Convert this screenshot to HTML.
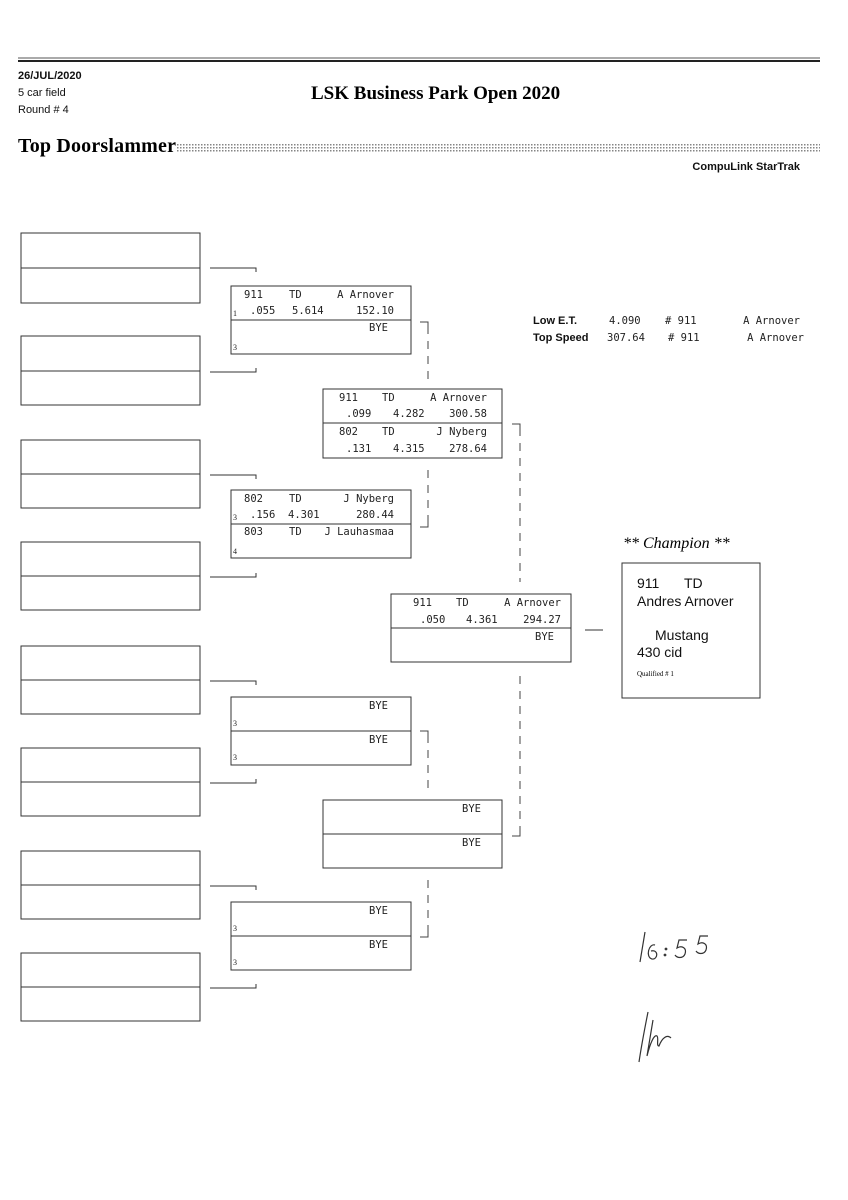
<!DOCTYPE html>
<html><head><meta charset="utf-8"><style>
body{margin:0;background:#fff;width:848px;height:1200px;overflow:hidden}
svg{display:block}
.m{font-family:"DejaVu Sans Mono","Liberation Mono",monospace;font-size:10.5px;fill:#222}
.s{font-family:"Liberation Serif",serif;font-size:8px;fill:#222}
.h{font-family:"Liberation Sans",sans-serif;fill:#111}
</style></head><body>
<svg width="848" height="1200" viewBox="0 0 848 1200" xmlns="http://www.w3.org/2000/svg">
<defs><pattern id="dp" width="3" height="3" patternUnits="userSpaceOnUse"><rect width="1.5" height="1.5" fill="#666"/></pattern></defs>
<line x1="18" y1="58" x2="820" y2="58" stroke="#555" stroke-width="1"/>
<line x1="18" y1="61" x2="820" y2="61" stroke="#222" stroke-width="2"/>
<text x="18" y="79" class="h" font-size="11" font-weight="bold" fill="#222">26/JUL/2020</text>
<text x="18" y="96" class="h" font-size="11" fill="#222">5 car field</text>
<text x="18" y="113" class="h" font-size="11" fill="#222">Round # 4</text>
<text x="311" y="99" font-family="Liberation Serif,serif" font-weight="bold" font-size="19">LSK Business Park Open 2020</text>
<text x="18" y="152" font-family="Liberation Serif,serif" font-weight="bold" font-size="20" textLength="158">Top Doorslammer</text>
<rect x="176" y="143" width="644" height="9" fill="url(#dp)" opacity="0.8"/>
<text x="800" y="170" text-anchor="end" class="h" font-size="11" font-weight="bold" fill="#222">CompuLink StarTrak</text>

<g fill="none" stroke="#333" stroke-width="1">
<rect x="21" y="233" width="179" height="70"/><line x1="21" y1="268" x2="200" y2="268"/>
<rect x="21" y="336" width="179" height="69"/><line x1="21" y1="371" x2="200" y2="371"/>
<rect x="21" y="440" width="179" height="68"/><line x1="21" y1="474" x2="200" y2="474"/>
<rect x="21" y="542" width="179" height="68"/><line x1="21" y1="576" x2="200" y2="576"/>
<rect x="21" y="646" width="179" height="68"/><line x1="21" y1="680" x2="200" y2="680"/>
<rect x="21" y="748" width="179" height="68"/><line x1="21" y1="782" x2="200" y2="782"/>
<rect x="21" y="851" width="179" height="68"/><line x1="21" y1="885" x2="200" y2="885"/>
<rect x="21" y="953" width="179" height="68"/><line x1="21" y1="987" x2="200" y2="987"/>
<path d="M210 268H256v4M210 372H256v-4M210 475H256v4M210 577H256v-4M210 681H256v4M210 783H256v-4M210 886H256v4M210 988H256v-4"/>
<rect x="231" y="286" width="180" height="68"/><line x1="231" y1="320" x2="411" y2="320"/>
<rect x="231" y="490" width="180" height="68"/><line x1="231" y1="524" x2="411" y2="524"/>
<rect x="231" y="697" width="180" height="68"/><line x1="231" y1="731" x2="411" y2="731"/>
<rect x="231" y="902" width="180" height="68"/><line x1="231" y1="936" x2="411" y2="936"/>
<rect x="323" y="389" width="179" height="69"/><line x1="323" y1="423" x2="502" y2="423"/>
<rect x="323" y="800" width="179" height="68"/><line x1="323" y1="834" x2="502" y2="834"/>
<rect x="391" y="594" width="180" height="68"/><line x1="391" y1="628" x2="571" y2="628"/>
<line x1="585" y1="630" x2="603" y2="630"/>
<rect x="622" y="563" width="138" height="135"/>
</g>
<g fill="none" stroke="#444" stroke-width="1">
<path d="M420 322H428v4"/><line x1="428" y1="326" x2="428" y2="380" stroke-dasharray="8,7"/>
<path d="M420 527H428v-4"/><line x1="428" y1="470" x2="428" y2="523" stroke-dasharray="8,7"/>
<path d="M420 731H428v4"/><line x1="428" y1="735" x2="428" y2="790" stroke-dasharray="8,7"/>
<path d="M420 937H428v-4"/><line x1="428" y1="880" x2="428" y2="933" stroke-dasharray="8,7"/>
<path d="M512 424H520v4"/><line x1="520" y1="428" x2="520" y2="582" stroke-dasharray="8,7"/>
<path d="M512 836H520v-4"/><line x1="520" y1="676" x2="520" y2="832" stroke-dasharray="8,7"/>
</g>

<g class="m">
<text x="244" y="298">911</text><text x="289" y="298">TD</text><text x="394" y="298" text-anchor="end">A Arnover</text>
<text x="250" y="314">.055</text><text x="292" y="314">5.614</text><text x="394" y="314" text-anchor="end">152.10</text>
<text x="388" y="331" text-anchor="end">BYE</text>
<text x="244" y="502">802</text><text x="289" y="502">TD</text><text x="394" y="502" text-anchor="end">J Nyberg</text>
<text x="250" y="518">.156</text><text x="288" y="518">4.301</text><text x="394" y="518" text-anchor="end">280.44</text>
<text x="244" y="535">803</text><text x="289" y="535">TD</text><text x="394" y="535" text-anchor="end">J Lauhasmaa</text>
<text x="388" y="709" text-anchor="end">BYE</text><text x="388" y="743" text-anchor="end">BYE</text>
<text x="388" y="914" text-anchor="end">BYE</text><text x="388" y="948" text-anchor="end">BYE</text>
<text x="339" y="401">911</text><text x="382" y="401">TD</text><text x="487" y="401" text-anchor="end">A Arnover</text>
<text x="346" y="417">.099</text><text x="393" y="417">4.282</text><text x="487" y="417" text-anchor="end">300.58</text>
<text x="339" y="435">802</text><text x="382" y="435">TD</text><text x="487" y="435" text-anchor="end">J Nyberg</text>
<text x="346" y="452">.131</text><text x="393" y="452">4.315</text><text x="487" y="452" text-anchor="end">278.64</text>
<text x="481" y="812" text-anchor="end">BYE</text><text x="481" y="846" text-anchor="end">BYE</text>
<text x="413" y="606">911</text><text x="456" y="606">TD</text><text x="561" y="606" text-anchor="end">A Arnover</text>
<text x="420" y="623">.050</text><text x="466" y="623">4.361</text><text x="561" y="623" text-anchor="end">294.27</text>
<text x="554" y="640" text-anchor="end">BYE</text>
<text x="609" y="324">4.090</text><text x="665" y="324"># 911</text><text x="800" y="324" text-anchor="end">A Arnover</text>
<text x="607" y="341">307.64</text><text x="668" y="341"># 911</text><text x="804" y="341" text-anchor="end">A Arnover</text>
</g>
<g class="s">
<text x="233" y="316">1</text><text x="233" y="350">3</text>
<text x="233" y="520">3</text><text x="233" y="554">4</text>
<text x="233" y="726">3</text><text x="233" y="760">3</text>
<text x="233" y="931">3</text><text x="233" y="965">3</text>
</g>
<text x="533" y="324" class="h" font-size="11" font-weight="bold">Low   E.T.</text>
<text x="533" y="341" class="h" font-size="11" font-weight="bold">Top Speed</text>
<text x="623" y="548" font-family="Liberation Serif,serif" font-style="italic" font-size="16">** Champion **</text>
<text x="637" y="588" class="h" font-size="14">911</text><text x="684" y="588" class="h" font-size="14">TD</text>
<text x="637" y="606" class="h" font-size="14">Andres Arnover</text>
<text x="655" y="640" class="h" font-size="14">Mustang</text>
<text x="637" y="657" class="h" font-size="14">430 cid</text>
<text x="637" y="676" font-family="Liberation Serif,serif" font-size="7">Qualified # 1</text>
<g fill="none" stroke="#333" stroke-width="1.2">
<path d="M645 932 L640 962 M655 945 c-6 -2 -10 12 -3 14 c6 1 7 -10 -1 -8"/>
<circle cx="666" cy="949" r="0.8"/><circle cx="665" cy="955" r="0.8"/>
<path d="M687 940 h-8 l-2 8 c5 -3 10 0 8 6 c-2 5 -8 4 -10 1 M708 936 h-8 l-2 8 c5 -3 10 0 8 6 c-2 5 -8 4 -10 1"/>
<path d="M648 1012 c-3 15 -6 30 -9 50 M653 1020 c-2 12 -4 24 -6 36 c3 -12 7 -22 10 -20 c2 2 -1 10 2 10 c3 -8 8 -12 12 -8"/>
</g>
</svg>
</body></html>
